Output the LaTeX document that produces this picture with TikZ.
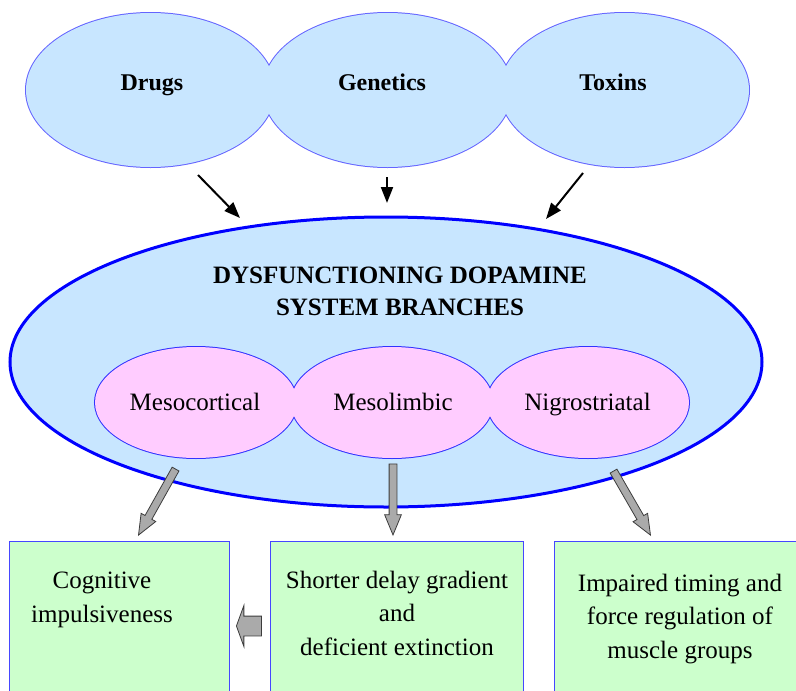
\documentclass[tikz,border=0pt]{standalone}
\usepackage{fontspec}
\setmainfont{Liberation Serif}
\usetikzlibrary{shapes.geometric,shapes.arrows,arrows.meta}
\definecolor{skyfill}{RGB}{200,230,255}
\definecolor{skyline}{RGB}{100,100,255}
\definecolor{bigline}{RGB}{0,0,255}
\definecolor{pinkfill}{RGB}{255,204,255}
\definecolor{pinkline}{RGB}{50,50,255}
\definecolor{greenfill}{RGB}{204,255,204}
\definecolor{boxline}{RGB}{70,70,255}
\definecolor{arrowgray}{RGB}{170,170,170}
\definecolor{arrowedge}{RGB}{60,60,60}
\begin{document}
\begin{tikzpicture}[x=1pt,y=-1pt,
  topell/.style={ellipse, draw=skyline, line width=2pt, fill=skyfill, minimum width=249pt, minimum height=154pt, inner sep=0pt},
  pinkell/.style={ellipse, draw=pinkline, line width=2pt, fill=pinkfill, minimum width=202pt, minimum height=111pt, inner sep=0pt},
  bigell/.style={ellipse, draw=bigline, line width=3pt, fill=skyfill, minimum width=752pt, minimum height=290pt, inner sep=0pt},
  effectbox/.style={rectangle, draw=boxline, line width=1.2pt, fill=greenfill, anchor=north west, inner sep=0pt},
  toplabel/.style={font=\fontsize{24}{28}\selectfont\bfseries, anchor=base, inner sep=0pt},
  titlelabel/.style={font=\fontsize{25}{32}\selectfont\bfseries, align=center, anchor=base, inner sep=0pt},
  pinklabel/.style={font=\fontsize{25}{30}\selectfont, anchor=base, inner sep=0pt},
  boxlabel/.style={font=\fontsize{25}{33.5}\selectfont, align=center, anchor=base, inner sep=0pt},
  cause/.style={-{Triangle[length=16pt,width=12pt]}, line width=2pt, black},
  grayarrow/.style={single arrow, draw=arrowedge, fill=arrowgray, line width=0.8pt, inner sep=3.5pt, single arrow head extend=4.5pt, single arrow tip angle=45, minimum height=#1, anchor=tip},
  blockarrow/.style={single arrow, draw=arrowedge, fill=arrowgray, line width=0.8pt, inner sep=9.5pt, single arrow head extend=10.5pt, single arrow tip angle=140, minimum height=25pt, anchor=tip}
]
\useasboundingbox (0,0) rectangle (796,691);
\clip (0,0) rectangle (796,691);

% top causes
\node[topell] (drugs) at (150.5,90) {};
\node[topell] (genetics) at (387.5,90) {};
\node[topell] (toxins) at (624.5,90) {};
\fill[skyfill] (drugs.center) ellipse [x radius=124.5pt, y radius=77pt];
\fill[skyfill] (genetics.center) ellipse [x radius=124.5pt, y radius=77pt];
\fill[skyfill] (toxins.center) ellipse [x radius=124.5pt, y radius=77pt];
\node[toplabel] (drugsT) at (152,90) {Drugs};
\node[toplabel] (geneticsT) at (382,90) {Genetics};
\node[toplabel] (toxinsT) at (613,90) {Toxins};

% black arrows
\coordinate (c1s) at (198,175);
\coordinate (c1e) at (240,218);
\coordinate (c2s) at (387,177);
\coordinate (c2e) at (387,203);
\coordinate (c3s) at (583,173);
\coordinate (c3e) at (546,219);
\draw[cause] (c1s) -- (c1e);
\draw[cause] (c2s) -- (c2e);
\draw[cause] (c3s) -- (c3e);

% big ellipse
\node[bigell] (system) at (386,362) {};
\node[titlelabel] (systemT) at (400,315) {DYSFUNCTIONING DOPAMINE\\SYSTEM BRANCHES};

% branches
\node[pinkell] (meso1) at (196,402.5) {};
\node[pinkell] (meso2) at (392,402.5) {};
\node[pinkell] (nigro) at (588,402.5) {};
\fill[pinkfill] (meso1.center) ellipse [x radius=101pt, y radius=55.5pt];
\fill[pinkfill] (meso2.center) ellipse [x radius=101pt, y radius=55.5pt];
\fill[pinkfill] (nigro.center) ellipse [x radius=101pt, y radius=55.5pt];
\node[pinklabel] (meso1T) at (195,410) {Mesocortical};
\node[pinklabel] (meso2T) at (393,410) {Mesolimbic};
\node[pinklabel] (nigroT) at (587.5,410) {Nigrostriatal};

% effect boxes
\node[effectbox, minimum width=220pt, minimum height=200pt] (box1) at (9,541) {};
\node[effectbox, minimum width=253pt, minimum height=200pt] (box2) at (270,541) {};
\node[effectbox, minimum width=260pt, minimum height=200pt] (box3) at (554,541) {};
\node[boxlabel] (box1T) at (102,622) {Cognitive\\impulsiveness};
\node[boxlabel] (box2T) at (397,655) {Shorter delay gradient\\and\\deficient extinction};
\node[boxlabel] (box3T) at (680,658) {Impaired timing and\\force regulation of\\muscle groups};

% gray arrows
\node[grayarrow=75.7pt, rotate=240.7] (g1) at (138,536) {};
\node[grayarrow=71pt, rotate=270] (g2) at (393,536) {};
\node[grayarrow=73.9pt, rotate=300] (g3) at (651,536) {};
\node[blockarrow, rotate=180] (g4) at (236,626) {};
\end{tikzpicture}
\end{document}
